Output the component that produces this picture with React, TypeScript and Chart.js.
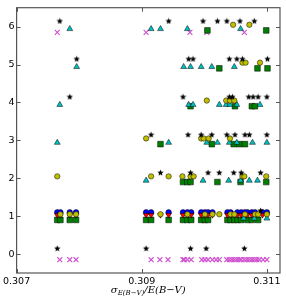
import { useEffect, useRef } from 'react';
import { Chart, registerables } from 'chart.js';

Chart.register(...registerables);

// Categories (rows on the y axis)
const rowValues = [0, 1, 2, 3, 4, 5, 6];
const xTickValues = [0.307, 0.309, 0.311];
const yTickValues = [0, 1, 2, 3, 4, 5, 6];
const xMin = 0.307;
const xMax = 0.31121;
const yMin = -0.5;
const yMax = 6.5;

// Per-series vertical offsets within each row (data units)
const starOffset = 0.15;
const crossOffset = -0.15;
const triOffset = -0.06;
const yellowOffset = 0.05;
const greenOffset = -0.1;
const blueOffset = 0.1;
const redOffset = 0.03;

// x values per row (index = row)
const starRows: number[][] = [
  [0.30765, 0.30907, 0.30978, 0.31003, 0.31064],
  [0.3109],
  [0.3093, 0.30978, 0.31006, 0.31024, 0.31047, 0.31059, 0.3109],
  [0.30915, 0.30974, 0.30995, 0.31012, 0.31036, 0.31049, 0.31065, 0.31072, 0.311],
  [0.30785, 0.30966, 0.3104, 0.31045, 0.31071, 0.31078, 0.31086, 0.311],
  [0.30796, 0.30975, 0.30982, 0.3104, 0.31052, 0.31061, 0.31101],
  [0.30769, 0.30943, 0.30998, 0.31021, 0.31036, 0.31057, 0.3108],
];

const crossRows: number[][] = [
  [0.30769, 0.30785, 0.30795, 0.30915, 0.30929, 0.30942, 0.30966, 0.30968, 0.30973, 0.30979,
   0.30996, 0.31001, 0.31006, 0.31013, 0.31019, 0.31024, 0.31036, 0.3104, 0.31044, 0.31048,
   0.31052, 0.31056, 0.31059, 0.31064, 0.31068, 0.31072, 0.31076, 0.3108, 0.31084, 0.31088,
   0.31094, 0.311],
  [], [], [], [], [],
  [0.30765, 0.30907, 0.30977, 0.31004, 0.31064],
];

const triRows: number[][] = [
  [],
  [0.31063, 0.3108, 0.311],
  [0.30907, 0.30998, 0.31039, 0.31058, 0.31072, 0.31085],
  [0.30765, 0.30943, 0.31004, 0.31021, 0.3104, 0.31052, 0.31077, 0.311],
  [0.30769, 0.30975, 0.30982, 0.31024, 0.31035, 0.31041, 0.31052, 0.31089],
  [0.30796, 0.30967, 0.30978, 0.30995, 0.31012, 0.31048],
  [0.30785, 0.30915, 0.3093, 0.30973, 0.31058],
];

const yellowRows: number[][] = [
  [],
  [0.3077, 0.30785, 0.30795, 0.3093, 0.30973, 0.31001, 0.31013, 0.31024, 0.31042, 0.31048,
   0.31065, 0.31081, 0.31086, 0.311],
  [0.30765, 0.30915, 0.30943, 0.30965, 0.30978, 0.30983, 0.31061, 0.31064, 0.31099],
  [0.30907, 0.30995, 0.30999, 0.31007, 0.31041],
  [0.31004, 0.31035, 0.31041, 0.31048],
  [0.31061, 0.31066, 0.31089],
  [0.31046, 0.31072],
];

const greenRows: number[][] = [
  [],
  [0.30765, 0.3077, 0.30785, 0.30795, 0.30907, 0.30915, 0.30943, 0.30966, 0.30973, 0.30979,
   0.30995, 0.31001, 0.31006, 0.31037, 0.31042, 0.31048, 0.31053, 0.31059, 0.31069, 0.31076,
   0.31086],
  [0.30966, 0.30973, 0.30978, 0.31021, 0.31058, 0.31099],
  [0.3093, 0.31012, 0.31047, 0.31056, 0.31065],
  [0.30978, 0.31049, 0.31076, 0.31081],
  [0.31024, 0.31085, 0.31101],
  [0.31005, 0.31099],
];

const blueRows: number[][] = [
  [],
  [0.30765, 0.3077, 0.30785, 0.30795, 0.30907, 0.30915, 0.30943, 0.30966, 0.30973, 0.30979,
   0.30995, 0.31001, 0.31006, 0.31013, 0.31037, 0.31042, 0.31053, 0.31059, 0.31065, 0.31069,
   0.31076, 0.31081, 0.31093, 0.311],
];

const redRows: number[][] = [
  [],
  [0.30765, 0.3077, 0.30785, 0.30795, 0.30907, 0.30915, 0.3093, 0.30943, 0.30966, 0.30973,
   0.30979, 0.30995, 0.31001, 0.31006, 0.31013, 0.31037, 0.31042, 0.31053, 0.31059, 0.31065,
   0.31069, 0.31076, 0.31081, 0.31093, 0.311],
];

function toPoints(rows: number[][], offset: number) {
  return rows.flatMap((xs, i) => xs.map((x) => ({ x, y: rowValues[i] + offset })));
}

function makeStar(size: number, color: string) {
  const c = document.createElement('canvas');
  c.width = size;
  c.height = size;
  const ctx = c.getContext('2d')!;
  const cx = size / 2;
  const cy = size / 2 + 0.3;
  const R = size / 2 - 0.2;
  const r = R * 0.45;
  ctx.beginPath();
  for (let i = 0; i < 10; i++) {
    const a = -Math.PI / 2 + (i * Math.PI) / 5;
    const rr = i % 2 ? r : R;
    ctx.lineTo(cx + rr * Math.cos(a), cy + rr * Math.sin(a));
  }
  ctx.closePath();
  ctx.fillStyle = color;
  ctx.fill();
  return c;
}

const framePlugin = {
  id: 'frameAndTitle',
  afterDraw(chart: any) {
    const { ctx, chartArea: a, scales } = chart;
    ctx.save();
    ctx.strokeStyle = '#555';
    ctx.lineWidth = 1.2;
    ctx.strokeRect(a.left, a.top, a.right - a.left, a.bottom - a.top);
    ctx.lineWidth = 1;
    ctx.beginPath();
    const tl = 4;
    xTickValues.forEach((v) => {
      const px = Math.round(scales.x.getPixelForValue(v)) + 0.5;
      ctx.moveTo(px, a.bottom);
      ctx.lineTo(px, a.bottom - tl);
      ctx.moveTo(px, a.top);
      ctx.lineTo(px, a.top + tl);
    });
    yTickValues.forEach((v) => {
      const py = Math.round(scales.y.getPixelForValue(v)) + 0.5;
      ctx.moveTo(a.left, py);
      ctx.lineTo(a.left + tl, py);
      ctx.moveTo(a.right, py);
      ctx.lineTo(a.right - tl, py);
    });
    ctx.stroke();

    // x-axis title: sigma_{E(B-V)}/E(B-V)
    const parts = [
      { text: 'σ', font: 'italic 10px "DejaVu Serif"', dy: 0 },
      { text: 'E(B−V)', font: 'italic 7px "DejaVu Serif"', dy: 2 },
      { text: '/E(B−V)', font: 'italic 10px "DejaVu Serif"', dy: 0 },
    ];
    let total = 0;
    const widths = parts.map((p) => {
      ctx.font = p.font;
      const w = ctx.measureText(p.text).width;
      total += w;
      return w;
    });
    let x = (a.left + a.right) / 2 - total / 2;
    const base = 293;
    ctx.fillStyle = '#000';
    ctx.textBaseline = 'alphabetic';
    ctx.textAlign = 'left';
    parts.forEach((p, i) => {
      ctx.font = p.font;
      ctx.fillText(p.text, x, base + p.dy);
      x += widths[i];
    });
    ctx.restore();
  },
};

export default function App() {
  const ref = useRef<HTMLCanvasElement>(null);

  useEffect(() => {
    document.body.style.margin = '0';
    const star = makeStar(7, '#000');
    const tickFont = { family: 'DejaVu Sans', size: 9.5 };
    const chart = new Chart(ref.current!, {
      type: 'scatter',
      data: {
        datasets: [
          {
            label: 'stars',
            data: toPoints(starRows, starOffset),
            pointStyle: star as any,
            pointRadius: 3.5,
            order: 0,
          },
          {
            label: 'yellow',
            data: toPoints(yellowRows, yellowOffset),
            pointStyle: 'circle',
            pointRadius: 2.7,
            pointBackgroundColor: '#bfbf00',
            pointBorderColor: '#000',
            pointBorderWidth: 0.5,
            order: 1,
          },
          {
            label: 'cyan',
            data: toPoints(triRows, triOffset),
            pointStyle: 'triangle',
            pointRadius: 3.4,
            pointBackgroundColor: '#00bfbf',
            pointBorderColor: '#000',
            pointBorderWidth: 0.5,
            order: 2,
          },
          {
            label: 'red',
            data: toPoints(redRows, redOffset),
            pointStyle: 'triangle',
            pointRotation: 180,
            pointRadius: 3.2,
            pointBackgroundColor: '#ff0000',
            pointBorderColor: '#000',
            pointBorderWidth: 0.5,
            order: 3,
          },
          {
            label: 'blue',
            data: toPoints(blueRows, blueOffset),
            pointStyle: 'circle',
            pointRadius: 2.8,
            pointBackgroundColor: '#0000ff',
            pointBorderColor: '#000',
            pointBorderWidth: 0.5,
            order: 4,
          },
          {
            label: 'green',
            data: toPoints(greenRows, greenOffset),
            pointStyle: 'rect',
            pointRadius: 4,
            pointBackgroundColor: '#008000',
            pointBorderColor: '#000',
            pointBorderWidth: 0.5,
            order: 5,
          },
          {
            label: 'magenta',
            data: toPoints(crossRows, crossOffset),
            pointStyle: 'crossRot',
            pointRadius: 3.5,
            pointBackgroundColor: '#d050d0',
            pointBorderColor: '#d050d0',
            pointBorderWidth: 1.1,
            order: 6,
          },
        ],
      },
      options: {
        responsive: false,
        devicePixelRatio: 1,
        animation: false,
        events: [],
        layout: { padding: { top: 5, right: 6, left: 0, bottom: 0 } },
        plugins: {
          legend: { display: false },
          tooltip: { enabled: false },
        },
        scales: {
          x: {
            type: 'linear',
            min: xMin,
            max: xMax,
            grid: { display: false, drawTicks: false },
            border: { display: false },
            ticks: {
              font: tickFont,
              color: '#000',
              padding: 3,
              maxRotation: 0,
              autoSkip: false,
              callback: (v: any) => Number(v).toFixed(3),
            },
            afterBuildTicks: (s: any) => {
              s.ticks = xTickValues.map((value) => ({ value }));
            },
            afterFit: (s: any) => {
              s.height = 27;
            },
          },
          y: {
            type: 'linear',
            min: yMin,
            max: yMax,
            grid: { display: false, drawTicks: false },
            border: { display: false },
            ticks: {
              font: tickFont,
              color: '#000',
              padding: 2,
              callback: (v: any) => String(v),
            },
            afterBuildTicks: (s: any) => {
              s.ticks = yTickValues.map((value) => ({ value }));
            },
            afterFit: (s: any) => {
              s.width = 13;
            },
          },
        },
      },
      plugins: [framePlugin],
    });
    return () => chart.destroy();
  }, []);

  return (
    <div style={{ width: 286, height: 300 }}>
      <canvas ref={ref} width={286} height={300} style={{ display: 'block' }} />
    </div>
  );
}
